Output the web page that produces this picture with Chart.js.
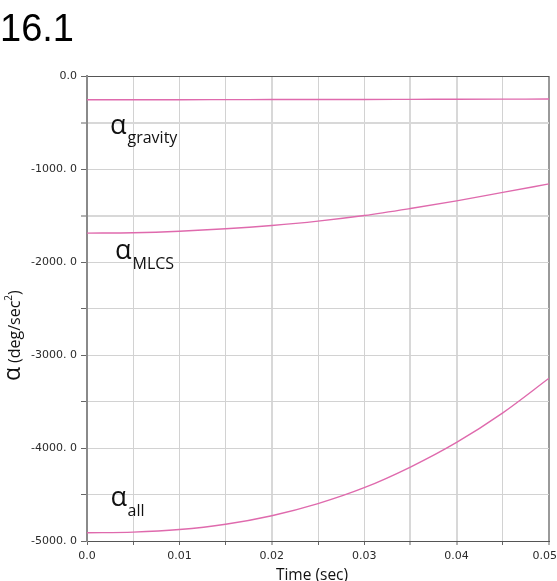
<!DOCTYPE html>
<html>
<head>
<meta charset="utf-8">
<script src="https://cdn.jsdelivr.net/npm/chart.js@4.4.0/dist/chart.umd.min.js"></script>
<style>
html, body { margin: 0; padding: 0; background: #fff; overflow: hidden; }
canvas { display: block; }
</style>
</head>
<body>
<canvas id="chart" width="557" height="581"></canvas>
<script>
var figureTitle = '16.1';
var xTitle = 'Time (sec)';
var times = [0, 0.005, 0.01, 0.015, 0.02, 0.025, 0.03, 0.035, 0.04, 0.045, 0.05];
var alphaGravity = [-256, -255, -255, -254, -253, -252, -252, -251, -250, -249, -248];
var alphaMLCS = [-1690, -1685, -1669, -1643, -1607, -1560, -1500, -1425, -1343, -1252, -1160];
var alphaAll = [-4912, -4905, -4877, -4820, -4728, -4598, -4427, -4205, -3940, -3622, -3250];
var seriesNames = ['gravity', 'MLCS', 'all'];
var xTickValues = [0, 0.01, 0.02, 0.03, 0.04, 0.05];
var xTickLabels = ['0.0', '0.01', '0.02', '0.03', '0.04', '0.05'];
var yTickValues = [0, -1000, -2000, -3000, -4000, -5000];
var yTickLabels = ['0.0', '-1000. 0', '-2000. 0', '-3000. 0', '-4000. 0', '-5000. 0'];

function same(a, b) { return Math.abs(a - b) < 1e-9; }
function labelFor(values, labels, v) {
  for (var i = 0; i < values.length; i++) {
    if (same(values[i], v)) return labels[i];
  }
  return '';
}
function isIn(list, v) {
  return list.some(function (a) { return same(a, v); });
}

// alpha with subscript, drawn next to each curve
function alphaLabel(c, sub, x, y, subX, subY) {
  c.font = '27px "Open Sans"';
  c.fillText('\u03b1', x, y);
  c.font = '16px "Open Sans"';
  c.fillText(sub, subX, subY);
}

var textPlugin = {
  id: 'texts',
  afterDraw: function (chart) {
    var c = chart.ctx, xs = chart.scales.x, area = chart.chartArea;
    c.save();
    c.fillStyle = '#000';
    c.textAlign = 'left';
    c.textBaseline = 'alphabetic';
    c.font = '38px "Liberation Sans", Arial, sans-serif';
    c.fillText(figureTitle, 0, 41);

    // x tick labels, last one kept inside the canvas
    c.font = '11px "DejaVu Sans"';
    c.fillStyle = '#2a2a2a';
    c.textBaseline = 'top';
    xTickValues.forEach(function (v, i) {
      var w = c.measureText(xTickLabels[i]).width;
      var left = Math.min(xs.getPixelForValue(v) - w / 2, chart.width - w);
      c.fillText(xTickLabels[i], left, area.bottom + 10);
    });

    c.fillStyle = '#111';
    c.textBaseline = 'alphabetic';
    c.textAlign = 'center';
    c.font = '15.5px "Open Sans"';
    c.fillText(xTitle, 312, 579.5);

    // y title, rotated
    c.save();
    c.textAlign = 'left';
    c.translate(19.5, 381);
    c.rotate(-Math.PI / 2);
    c.font = '23px "Open Sans"';
    c.fillText('\u03b1', 0, 0);
    var px = 18;
    c.font = '16px "Open Sans"';
    c.fillText('(deg/sec', px, 0);
    px += c.measureText('(deg/sec').width;
    c.font = '10px "Open Sans"';
    c.fillText('2', px, -7.5);
    px += c.measureText('2').width;
    c.font = '16px "Open Sans"';
    c.fillText(')', px, 0);
    c.restore();

    c.textAlign = 'left';
    alphaLabel(c, seriesNames[0], 110, 133.5, 127.5, 143);
    alphaLabel(c, seriesNames[1], 115, 259, 132.5, 268.5);
    alphaLabel(c, seriesNames[2], 110.5, 505.5, 127.5, 515.5);
    c.restore();
  }
};

var ctx = document.getElementById('chart').getContext('2d');
var myChart = new Chart(ctx, {
  type: 'line',
  data: {
    datasets: [alphaGravity, alphaMLCS, alphaAll].map(function (vals, k) {
      return {
        label: seriesNames[k],
        data: times.map(function (t, i) { return { x: t, y: vals[i] }; }),
        borderColor: '#df6aad',
        borderWidth: 1.4,
        pointRadius: 0,
        fill: false,
        cubicInterpolationMode: 'monotone'
      };
    })
  },
  options: {
    responsive: false,
    animation: false,
    devicePixelRatio: 1,
    layout: { padding: { top: 76, right: 8, left: 0, bottom: 0 } },
    plugins: {
      legend: { display: false },
      tooltip: { enabled: false },
      title: { display: false }
    },
    scales: {
      x: {
        type: 'linear',
        min: 0,
        max: 0.05,
        ticks: { display: false, stepSize: 0.005 },
        grid: {
          color: function (c) {
            if (!c.tick) return '#d2d2d2';
            if (same(c.tick.value, 0.05)) return '#9a9a9a';
            return isIn([0.02, 0.035, 0.04], c.tick.value) ? '#d8d8d8' : '#d2d2d2';
          },
          lineWidth: function (c) {
            if (!c.tick) return 1;
            if (same(c.tick.value, 0.05)) return 2;
            return isIn([0.02, 0.035, 0.04], c.tick.value) ? 2 : 1;
          },
          tickLength: 4,
          tickColor: '#666',
          tickWidth: 1
        },
        border: { color: '#555', width: 1 },
        afterFit: function (s) { s.height = 40; s.paddingLeft = 0; s.paddingRight = 0; }
      },
      y: {
        min: -5000,
        max: 0,
        ticks: {
          stepSize: 500,
          autoSkip: false,
          padding: 4,
          color: '#2a2a2a',
          font: { family: 'DejaVu Sans', size: 11 },
          callback: function (v) { return labelFor(yTickValues, yTickLabels, v); }
        },
        grid: {
          color: function (c) {
            if (!c.tick) return '#d2d2d2';
            if (same(c.tick.value, 0)) return '#555';
            return isIn([-500, -1500], c.tick.value) ? '#d8d8d8' : '#d2d2d2';
          },
          lineWidth: function (c) {
            if (!c.tick) return 1;
            return isIn([-500, -1500], c.tick.value) ? 2 : 1;
          },
          tickLength: 6,
          tickColor: '#666',
          tickWidth: 1
        },
        border: { color: '#8a8a8a', width: 2 },
        afterFit: function (s) { s.width = 87; s.paddingTop = 0; s.paddingBottom = 0; }
      }
    }
  },
  plugins: [textPlugin]
});
</script>
</body>
</html>
